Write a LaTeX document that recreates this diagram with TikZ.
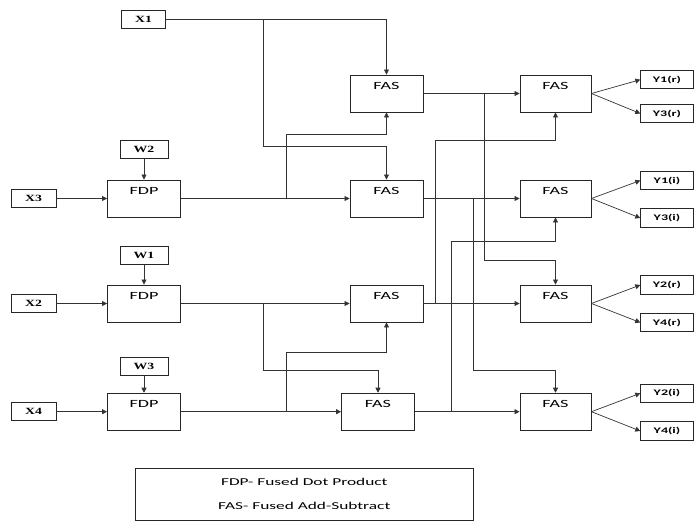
\documentclass[tikz,border=0pt]{standalone}
\usepackage{fontspec}
\setmainfont{Carlito}[FakeStretch=1.65]
\newfontfamily\inlabelfont{Liberation Serif}[FakeStretch=1.45]
\usetikzlibrary{arrows.meta,calc,positioning}
\tikzset{
  in box/.style={draw=black!85,line width=.9pt,inner sep=0pt,minimum height=18.5pt,
    font=\inlabelfont\bfseries\fontsize{9.5}{10}\selectfont},
  out box/.style={draw=black!85,line width=.9pt,inner sep=0pt,minimum width=52.5pt,minimum height=18.5pt,
    font=\bfseries\fontsize{8.5}{9}\selectfont},
  blockbox/.style={draw=black!85,line width=.9pt,minimum width=73pt,minimum height=37pt,inner sep=0pt,
    label={[anchor=north,inner sep=0pt,yshift=-7.5pt,font=\fontsize{11}{12}\selectfont]north:#1}},
  wire/.style={draw=black!80,line width=.7pt},
  feed/.style={wire,-{Triangle[length=5pt,width=5pt]}}
}

\begin{document}
\begin{tikzpicture}[x=1pt,y=-1pt,line join=miter]
  \useasboundingbox (0,0) rectangle (694,521);

  % inputs and weights
  \node[in box,minimum width=44pt] (x1) at (143.5,19.5) {X1};
  \node[in box,minimum width=45pt] (x3) at (33.5,198.5) {X3};
  \node[in box,minimum width=45pt] (x2) at (33.5,303.5) {X2};
  \node[in box,minimum width=45pt] (x4) at (33.5,411.7) {X4};
  \node[in box,minimum width=48pt] (w2) at (144,149.5) {W2};
  \node[in box,minimum width=48pt] (w1) at (144,255.5) {W1};
  \node[in box,minimum width=48pt] (w3) at (144,366.3) {W3};

  % dot products
  \node[blockbox=FDP] (fdp3) at (144,198.5) {};
  \node[blockbox=FDP] (fdp2) at (144,303.5) {};
  \node[blockbox=FDP] (fdp4) at (144,411.7) {};

  % first add-subtract stage
  \node[blockbox=FAS] (fasA) at (386.5,93.5) {};
  \node[blockbox=FAS] (fasB) at (386.5,198.5) {};
  \node[blockbox=FAS] (fasC) at (386.5,303.5) {};
  \node[blockbox=FAS] (fasD) at (378,411.7) {};

  % second add-subtract stage
  \node[blockbox=FAS,minimum width=71pt] (fasR1) at (555.5,93.5) {};
  \node[blockbox=FAS,minimum width=71pt] (fasR2) at (555.5,198.5) {};
  \node[blockbox=FAS,minimum width=71pt] (fasR3) at (555.5,303.5) {};
  \node[blockbox=FAS,minimum width=71pt] (fasR4) at (555.5,411.7) {};

  % outputs
  \node[out box] (y1r) at (667,79.7) {Y1(r)};
  \node[out box] (y3r) at (667,113.5) {Y3(r)};
  \node[out box] (y1i) at (667,180.5) {Y1(i)};
  \node[out box] (y3i) at (667,218) {Y3(i)};
  \node[out box] (y2r) at (667,285) {Y2(r)};
  \node[out box] (y4r) at (667,322.5) {Y4(r)};
  \node[out box] (y2i) at (667,393.3) {Y2(i)};
  \node[out box] (y4i) at (667,431) {Y4(i)};

  % taps and bends
  \coordinate (x1tap)  at (263,19.5);
  \coordinate (x1bend) at (263,146);
  \coordinate (f3tap)  at (286,198.5);
  \coordinate (f3bend) at (286,134);
  \coordinate (f2tap)  at (263.3,303.5);
  \coordinate (f2bend) at (263.3,370);
  \coordinate (f4tap)  at (286,411.7);
  \coordinate (f4bend) at (286,352);
  \coordinate (atap)   at (484,93.5);
  \coordinate (abend)  at (484,260);
  \coordinate (btap)   at (473,198.5);
  \coordinate (bbend)  at (473,370.7);
  \coordinate (ctap)   at (435.7,303.5);
  \coordinate (cbend)  at (435.7,140);
  \coordinate (dtap)   at (451.7,411.7);
  \coordinate (dbend)  at (451.7,241);

  % inputs into FDP
  \draw[feed] (x3.east) -- (fdp3.west);
  \draw[feed] (x2.east) -- (fdp2.west);
  \draw[feed] (x4.east) -- (fdp4.west);
  \draw[feed] (w2.south) -- (fdp3.north);
  \draw[feed] (w1.south) -- (fdp2.north);
  \draw[feed] (w3.south) -- (fdp4.north);

  % into first stage
  \draw[feed] (x1.east) -| (fasA.north);
  \draw[feed] (x1tap) -- (x1bend) -| (fasB.north);
  \draw[feed] (fdp3.east) -- (fasB.west);
  \draw[feed] (f3tap) -- (f3bend) -| (fasA.south);
  \draw[feed] (fdp2.east) -- (fasC.west);
  \draw[feed] (f2tap) -- (f2bend) -| (fasD.north);
  \draw[feed] (fdp4.east) -- (fasD.west);
  \draw[feed] (f4tap) -- (f4bend) -| (fasC.south);

  % into second stage
  \draw[feed] (fasA.east) -- (fasR1.west);
  \draw[feed] (atap) -- (abend) -| (fasR3.north);
  \draw[feed] (fasB.east) -- (fasR2.west);
  \draw[feed] (btap) -- (bbend) -| (fasR4.north);
  \draw[feed] (fasC.east) -- (fasR3.west);
  \draw[feed] (ctap) -- (cbend) -| (fasR1.south);
  \draw[feed] (fasD.east) -- (fasR4.west);
  \draw[feed] (dtap) -- (dbend) -| (fasR2.south);

  % outputs
  \foreach \src/\up/\dn in {fasR1/y1r/y3r,fasR2/y1i/y3i,fasR3/y2r/y4r,fasR4/y2i/y4i} {
    \draw[feed] (\src.east) -- (\up.west);
    \draw[feed] (\src.east) -- (\dn.west);
  }

  % legend
  \node[draw=black!85,line width=.9pt,minimum width=338pt,minimum height=52pt,align=center,
        font=\fontsize{10.5}{24}\selectfont] (legend) at (304.3,494)
        {FDP- Fused Dot Product\\FAS- Fused Add-Subtract};
\end{tikzpicture}
\end{document}
